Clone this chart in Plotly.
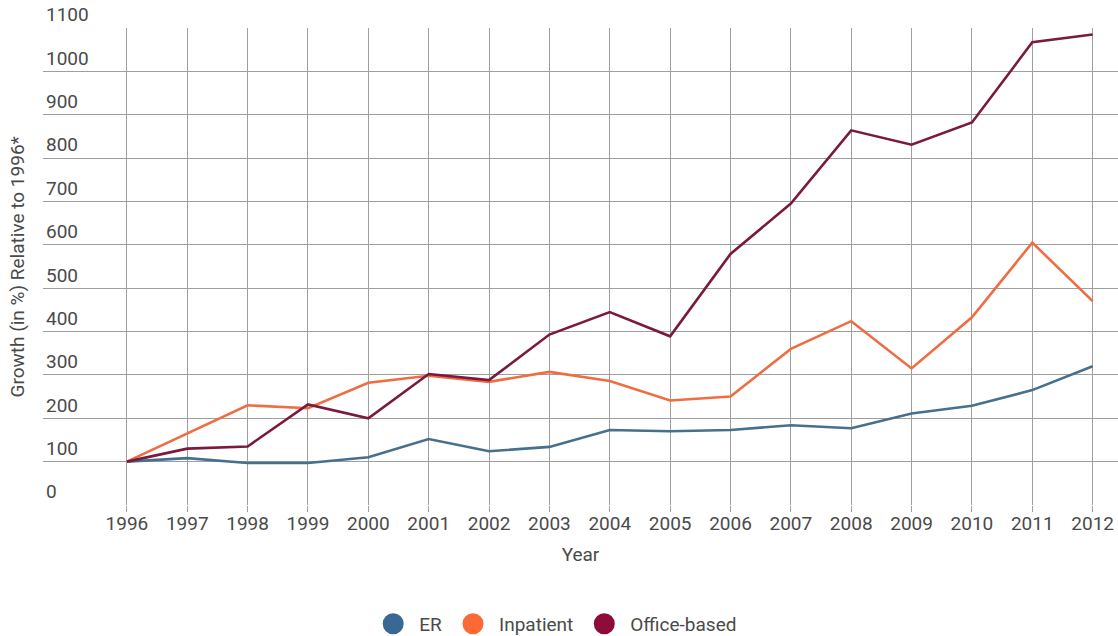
import plotly.graph_objects as go

years = list(range(1996, 2013))
er = [100, 108, 97, 97, 110, 152, 124, 134, 173, 170, 173, 184, 177, 211, 229, 265, 320]
inpatient = [100, 165, 230, 223, 282, 298, 284, 307, 286, 241, 250, 360, 424, 315, 433, 605, 470]
office = [100, 130, 135, 232, 200, 302, 288, 393, 445, 389, 579, 695, 864, 831, 882, 1067, 1085]

series = [("ER", er, "#46708f", "#3a6894"),
          ("Inpatient", inpatient, "#ef6d43", "#fb6a36"),
          ("Office-based", office, "#7a1a3d", "#8e0c3a")]

fig = go.Figure()
for name, vals, lc, mc in series:
    fig.add_trace(go.Scatter(x=years, y=vals, mode="lines", name=name,
                             line=dict(color=lc, width=2.6), showlegend=False))
for name, vals, lc, mc in series:
    fig.add_trace(go.Scatter(x=[None], y=[None], mode="markers", name=name,
                             marker=dict(color=mc, size=22, symbol="circle",
                                         line=dict(color=mc, width=5))))

fig.update_layout(
    width=1118, height=636,
    margin=dict(l=43, r=0, t=28, b=131),
    paper_bgcolor="white", plot_bgcolor="white",
    font=dict(family="Roboto", color="#4a4a4a", size=18),
    showlegend=True,
    legend=dict(orientation="h", x=0.476, xanchor="center",
                yref="container", y=0.019, yanchor="middle",
                borderwidth=0,
                font=dict(size=19, color="#4a4a4a"), itemsizing="trace", itemwidth=42),
    xaxis=dict(range=[1994.61, 2012.42], tickmode="array", tickvals=years,
               ticktext=[str(y) for y in years], automargin=False,
               showgrid=True, gridcolor="#9f9f9f", gridwidth=1,
               ticks="outside", ticklen=6, tickcolor="#9f9f9f", ticklabelstandoff=-5,
               tickfont=dict(size=19, color="#4a4a4a"),
               title=dict(text="Year", font=dict(size=19, color="#4a4a4a"), standoff=13),
               zeroline=False, showline=False),
    yaxis=dict(range=[0, 1100], tickvals=list(range(0, 1101, 100)), automargin=False,
               showgrid=True, gridcolor="#9f9f9f", gridwidth=1,
               ticklabelposition="inside top", ticklabeloverflow="allow", ticks="",
               tickfont=dict(size=19, color="#4a4a4a"),
               zeroline=False, showline=False),
    annotations=[dict(text="Growth (in %) Relative to 1996*", xref="paper", yref="paper",
                      x=-0.0233, y=0.5, xanchor="center", yanchor="middle", textangle=-90,
                      showarrow=False, font=dict(size=19, color="#4a4a4a"))],
)

fig.write_html("out.html", config={"displayModeBar": False},
               post_script="document.body.style.margin='0px';document.body.style.padding='0px';")
